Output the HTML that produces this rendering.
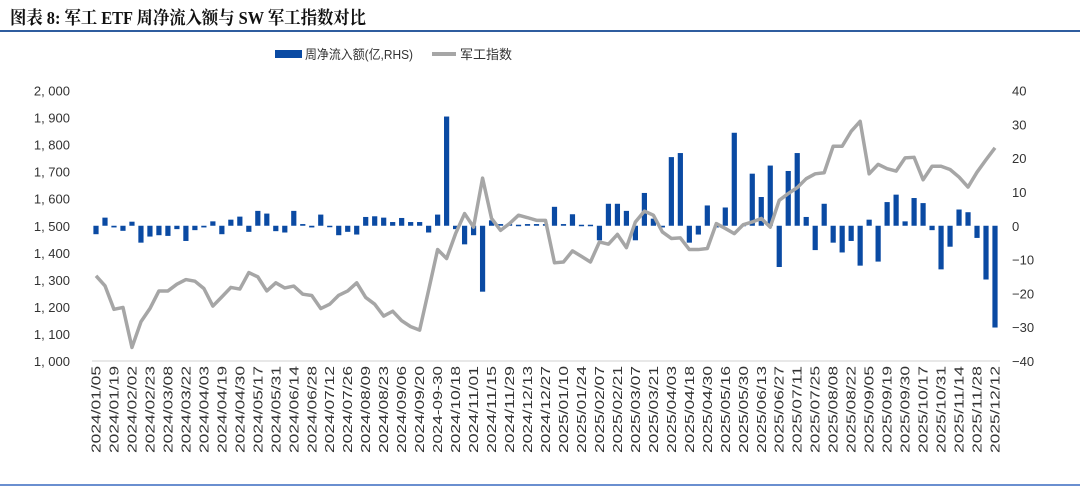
<!DOCTYPE html>
<html><head><meta charset="utf-8"><style>
body{margin:0;background:#fff;width:1080px;height:490px;overflow:hidden}
svg{display:block}
text{font-family:"Liberation Sans","Noto Sans CJK SC",sans-serif}
</style></head><body>
<svg id="c" width="1080" height="490">
<text x="10" y="24" font-size="18" font-weight="bold" fill="#111" textLength="356" lengthAdjust="spacingAndGlyphs" style="font-family:'Liberation Serif','Noto Serif CJK SC',serif">图表 8:  军工 ETF 周净流入额与 SW 军工指数对比</text>
<line x1="0" y1="31" x2="1080" y2="31" stroke="#2f5d9f" stroke-width="2"/>
<g>
<rect x="275" y="50" width="27" height="8" fill="#0a4aa3"/>
<text x="305" y="59" font-size="13" fill="#333" textLength="108" lengthAdjust="spacingAndGlyphs">周净流入额(亿,RHS)</text>
<line x1="432" y1="54" x2="456" y2="54" stroke="#a6a6a6" stroke-width="4"/>
<text x="460" y="59" font-size="13" fill="#333">军工指数</text>
</g>
<line x1="92" y1="361" x2="1000" y2="361" stroke="#d0d0d0" stroke-width="1"/>
<g id="g"></g>
<line x1="0" y1="485" x2="1080" y2="485" stroke="#6a8fd0" stroke-width="2"/>
</svg>
<script>
const flows=[-2.5,2.4,-0.5,-1.5,1.2,-5,-3.2,-2.8,-3,-1,-4.5,-1.3,-0.5,1.3,-2.5,1.8,2.7,-1.8,4.4,3.6,-1.6,-2,4.4,0.5,-0.5,3.3,-0.3,-2.8,-1.8,-2.6,2.6,2.8,2.4,1.1,2.3,1.1,1.1,-2,3.3,32.3,-1,-5.5,-2.8,-19.5,1.6,0.5,0.5,0.3,0.5,0.5,0.5,5.6,0.5,3.4,0.3,0.3,-4.3,6.5,6.5,4.4,-4.3,9.7,2.1,-0.5,20.3,21.5,-5,-2.6,6,-0.5,5.4,27.5,0.3,15.4,8.5,17.8,-12.2,16.2,21.5,2.6,-7.2,6.5,-5,-7.9,-4.5,-11.8,1.8,-10.6,7,9.2,1.3,8.2,6.7,-1.3,-12.9,-6.2,4.8,4,-3.6,-15.9,-30.1];
const indexVals=[1315,1278,1191,1198,1050,1145,1194,1259,1259,1284,1301,1295,1268,1203,1237,1272,1266,1327,1311,1259,1289,1270,1277,1247,1242,1194,1210,1243,1259,1289,1235,1210,1166,1184,1149,1127,1114,1262,1412,1379,1471,1545,1495,1676,1527,1483,1508,1539,1530,1520,1520,1363,1366,1407,1387,1366,1440,1432,1468,1419,1514,1554,1539,1477,1453,1455,1412,1412,1416,1508,1490,1471,1504,1514,1527,1495,1594,1619,1641,1674,1692,1696,1794,1794,1849,1886,1692,1727,1711,1702,1751,1753,1670,1720,1720,1708,1680,1643,1698,1744,1788];
const dateLabels=["2024/01/05","2024/01/19","2024/02/02","2024/02/23","2024/03/08","2024/03/22","2024/04/03","2024/04/19","2024/04/30","2024/05/17","2024/05/31","2024/06/14","2024/06/28","2024/07/12","2024/07/26","2024/08/09","2024/08/23","2024/09/06","2024/09/20","2024-09-30","2024/10/18","2024/11/01","2024/11/15","2024/11/29","2024/12/13","2024/12/27","2025/01/10","2025/01/24","2025/02/07","2025/02/21","2025/03/07","2025/03/21","2025/04/03","2025/04/18","2025/04/30","2025/05/16","2025/05/30","2025/06/13","2025/06/27","2025/07/11","2025/07/25","2025/08/08","2025/08/22","2025/09/05","2025/09/19","2025/09/30","2025/10/17","2025/10/31","2025/11/14","2025/11/28","2025/12/12"];
const leftTicks=[1000,1100,1200,1300,1400,1500,1600,1700,1800,1900,2000];
const leftTickLabels=["1, 000","1, 100","1, 200","1, 300","1, 400","1, 500","1, 600","1, 700","1, 800","1, 900","2, 000"];
const rightTicks=[-40,-30,-20,-10,0,10,20,30,40];

const NS="http://www.w3.org/2000/svg",g=document.getElementById('g');
const X0=96,X1=995,TOP=90.5,BOT=361;
const x=i=>X0+(X1-X0)*i/(flows.length-1);
const yL=v=>BOT-(v-1000)/1000*(BOT-TOP);
const yR=v=>BOT-(v+40)/80*(BOT-TOP);
function mk(t,a){const e=document.createElementNS(NS,t);for(const k in a)e.setAttribute(k,a[k]);g.appendChild(e);return e;}
leftTicks.forEach((v,i)=>{const t=mk('text',{x:70,y:yL(v)+5,'font-size':13,fill:'#333','text-anchor':'end'});t.textContent=leftTickLabels[i];

});
rightTicks.forEach(v=>{const t=mk('text',{x:1012,y:yR(v)+5,'font-size':13,fill:'#333'});t.textContent=String(v).replace('-','−');

});
flows.forEach((v,i)=>{const y0=yR(0),y1=yR(v);const r=mk('rect',{x:x(i)-2.6,y:Math.min(y0,y1),width:5.2,height:Math.max(1.5,Math.abs(y1-y0)),fill:'#0a4aa3'});

});
const p=mk('polyline',{points:indexVals.map((v,i)=>x(i)+','+yL(v)).join(' '),fill:'none',stroke:'#a6a6a6','stroke-width':3.5,'stroke-linejoin':'round'});


dateLabels.forEach((d,k)=>{const xx=x(k*2)+4.5;const t=mk('text',{x:0,y:0,'font-size':13,fill:'#333','text-anchor':'end',textLength:87,lengthAdjust:'spacingAndGlyphs',transform:`translate(${xx},366) rotate(-90)`});t.textContent=d;

});
</script>
</body></html>
